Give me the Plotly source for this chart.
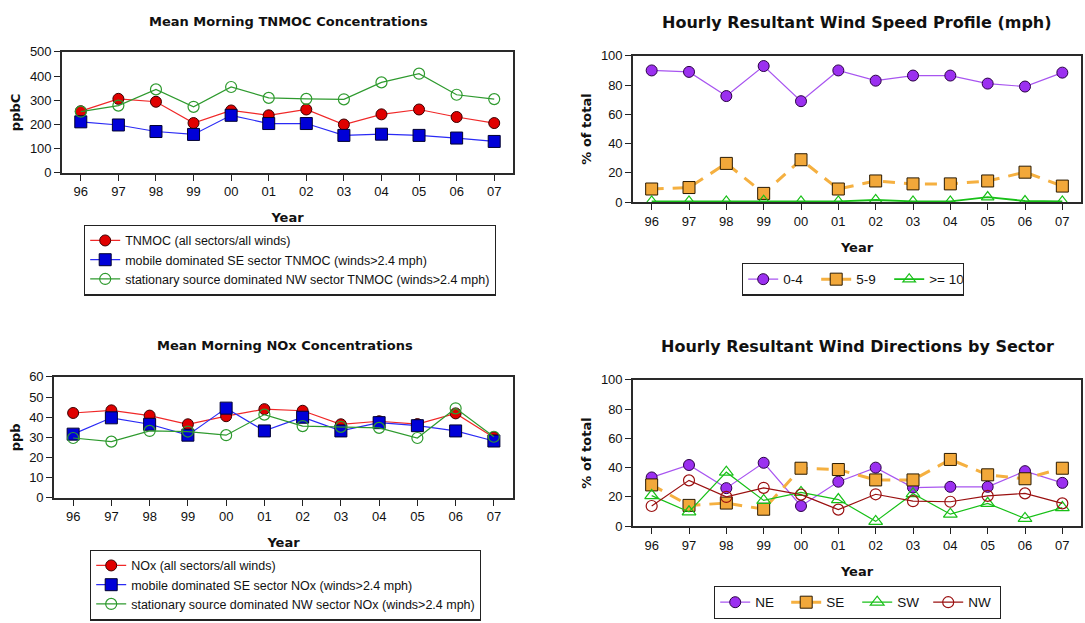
import plotly.graph_objects as go

# ---------------- data ----------------
years = ["96", "97", "98", "99", "00", "01", "02", "03", "04", "05", "06", "07"]

tnmoc_all = [255, 306, 294, 206, 258, 238, 262, 200, 242, 262, 231, 206]
tnmoc_se = [211, 198, 171, 159, 238, 204, 204, 155, 160, 155, 144, 130]
tnmoc_nw = [253, 278, 345, 273, 355, 310, 306, 304, 374, 410, 323, 305]

speed_0_4 = [90, 89, 72.5, 93, 69, 90, 83, 86.5, 86.5, 81, 79, 88.5]
speed_5_9 = [9, 10, 26.5, 6, 29, 9, 14.5, 12.5, 12.5, 14.5, 20.5, 11]
speed_10 = [0.5, 0.5, 0.5, 1, 0.5, 0.5, 1.5, 0.5, 0.5, 3.5, 0.8, 0.5]

nox_all = [42.1, 43.4, 40.8, 36.5, 40.5, 44, 43.2, 36.5, 38, 36.6, 41.9, 30]
nox_se = [31.6, 39.7, 36.5, 31.1, 44.5, 33.2, 40, 33.2, 37.3, 35.8, 33.2, 28.2]
nox_nw = [29.7, 27.9, 33.2, 32.9, 31.1, 41.3, 35.6, 35.2, 34.7, 29.7, 44.4, 30.3]

dir_ne = [33.3, 41.8, 26, 43.3, 13.8, 30.4, 40, 26.4, 26.9, 26.9, 37.6, 29.6]
dir_se = [28.2, 14.2, 15.8, 11.6, 39.6, 38.7, 31.6, 31.6, 45.6, 35.1, 32.4, 39.6]
dir_sw = [20.9, 9.8, 36.9, 17.6, 23.1, 18.2, 3.3, 22.2, 8.2, 15.6, 5.3, 12.7]
dir_nw = [13.8, 31.3, 20, 26.2, 21.6, 11.3, 21.8, 17.1, 16.7, 20.7, 22.4, 15.6]

titles = ["Mean Morning TNMOC Concentrations",
          "Hourly Resultant Wind Speed Profile (mph)",
          "Mean Morning NOx Concentrations",
          "Hourly Resultant Wind Directions by Sector"]

# ---------------- layout helpers ----------------
W, H = 1085, 623


def px_x(v):
    return v / W


def px_y(v):
    return 1 - v / H


TICK_FONT = dict(family="Liberation Sans, Arial, sans-serif", size=13, color="#111")
LEG_FONT = dict(family="Liberation Sans, Arial, sans-serif", size=12.5, color="#111")
LEG_FONT_R = dict(family="Liberation Sans, Arial, sans-serif", size=13.5, color="#111")
BOLD = "DejaVu Sans, Verdana, sans-serif"
DASH = "12px,9px"

fig = go.Figure()


def add(x, y, name, ax, legend, line, marker, mode="lines+markers"):
    fig.add_trace(go.Scatter(
        x=x, y=y, name=name, mode=mode, line=line, marker=marker,
        xaxis="x" + ("" if ax == 1 else str(ax)),
        yaxis="y" + ("" if ax == 1 else str(ax)),
        legend=legend,
    ))


# top-left TNMOC
add(years, tnmoc_all, "TNMOC (all sectors/all winds)", 1, "legend",
    dict(color="#F02828", width=1.2),
    dict(symbol="circle", size=11, color="#E00000", line=dict(color="#3a0000", width=1)))
add(years, tnmoc_se, "mobile dominated SE sector TNMOC (winds>2.4 mph)", 1, "legend",
    dict(color="#2A2AF5", width=1.2),
    dict(symbol="square", size=12, color="#0000D8", line=dict(color="#000030", width=1)))
add(years, tnmoc_nw, "stationary source dominated NW sector TNMOC (winds>2.4 mph)", 1, "legend",
    dict(color="#2E9A2E", width=1.2),
    dict(symbol="circle-open", size=11, color="#2E9A2E", line=dict(width=1.2)))

# top-right wind speed
add(years, speed_0_4, "0-4", 2, "legend2",
    dict(color="#A855F0", width=1.2),
    dict(symbol="circle", size=11, color="#9B30F0", line=dict(color="#2a0045", width=1)))
add(years, speed_5_9, "5-9", 2, "legend2",
    dict(color="#F5B040", width=3, dash=DASH),
    dict(symbol="square", size=12, color="#F2A83A", line=dict(color="#2a1a00", width=1)))
add(years, speed_10, ">= 10", 2, "legend2",
    dict(color="#18C018", width=1.8),
    dict(symbol="triangle-up-open", size=11, color="#18C018", line=dict(width=1.2)))

# bottom-left NOx
add(years, nox_all, "NOx (all sectors/all winds)", 3, "legend3",
    dict(color="#F02828", width=1.2),
    dict(symbol="circle", size=11, color="#E00000", line=dict(color="#3a0000", width=1)))
add(years, nox_se, "mobile dominated SE sector NOx (winds>2.4 mph)", 3, "legend3",
    dict(color="#2A2AF5", width=1.2),
    dict(symbol="square", size=12, color="#0000D8", line=dict(color="#000030", width=1)))
add(years, nox_nw, "stationary source dominated NW sector NOx (winds>2.4 mph)", 3, "legend3",
    dict(color="#2E9A2E", width=1.2),
    dict(symbol="circle-open", size=11, color="#2E9A2E", line=dict(width=1.2)))

# bottom-right wind direction
add(years, dir_ne, "NE", 4, "legend4",
    dict(color="#A855F0", width=1.2),
    dict(symbol="circle", size=11, color="#9B30F0", line=dict(color="#2a0045", width=1)))
add(years, dir_se, "SE", 4, "legend4",
    dict(color="#F5B040", width=3, dash=DASH),
    dict(symbol="square", size=12, color="#F2A83A", line=dict(color="#2a1a00", width=1)))
add(years, dir_sw, "SW", 4, "legend4",
    dict(color="#18C018", width=1.2),
    dict(symbol="triangle-up-open", size=12, color="#18C018", line=dict(width=1.2)))
add(years, dir_nw, "NW", 4, "legend4",
    dict(color="#9A1010", width=1.2),
    dict(symbol="circle-open", size=11, color="#9A1010", line=dict(width=1.2)))

# plot areas in pixels: (left, right, top, bottom)
areas = {
    1: (62, 513, 46, 170),
    2: (633, 1081, 50, 200),
    3: (54, 513, 379, 503),
    4: (633, 1081, 382, 532),
}
yranges = {1: (0, 500, 100, "ppbC"), 2: (0, 100, 20, "% of total"),
           3: (0, 60, 10, "ppb"), 4: (0, 100, 20, "% of total")}

layout = dict(
    width=W, height=H, margin=dict(l=0, r=0, t=0, b=0),
    paper_bgcolor="white", plot_bgcolor="white",
    font=TICK_FONT,
)
for i, (l, r, t, b) in areas.items():
    suf = "" if i == 1 else str(i)
    y0, y1, dt, ytitle = yranges[i]
    layout["xaxis" + suf] = dict(
        domain=[px_x(l), px_x(r)], anchor="y" + suf, type="category",
        range=[-0.5, 11.5], showline=True, mirror=True, linecolor="#2a2a2a", linewidth=1.6,
        ticks="outside", ticklen=6, tickcolor="#222", tickwidth=1, showgrid=False,
        zeroline=False, tickfont=TICK_FONT,
        title=dict(text="Year", font=dict(family=BOLD, size=13, color="#111", weight="bold"),
                   standoff=15),
    )
    layout["yaxis" + suf] = dict(
        domain=[px_y(b), px_y(t)], anchor="x" + suf, range=[y0, y1], dtick=dt,
        showline=True, mirror=True, linecolor="#2a2a2a", linewidth=1.6,
        ticks="outside", ticklen=6, tickcolor="#222", tickwidth=1, showgrid=False,
        zeroline=False, tickfont=TICK_FONT,
        title=dict(text=ytitle, font=dict(family=BOLD, size=13, color="#111", weight="bold"),
                   standoff=6),
    )

leg_common = dict(bordercolor="#222", borderwidth=1.2, bgcolor="white",
                  xanchor="left", yanchor="top", itemclick=False)
layout["legend"] = dict(x=px_x(84), y=px_y(223), font=LEG_FONT, **leg_common)
layout["legend2"] = dict(x=px_x(742), y=px_y(262), orientation="h", font=LEG_FONT_R,
                         entrywidth=28, **leg_common)
layout["legend3"] = dict(x=px_x(90), y=px_y(556), font=LEG_FONT, **leg_common)
layout["legend4"] = dict(x=px_x(714), y=px_y(593), orientation="h", font=LEG_FONT_R,
                         entrywidth=26, **leg_common)

title_pos = [(288, 15, 13), (857, 16, 16), (285, 347, 13), (857, 348, 16)]
annotations = []
for txt, (cx, cy, fs) in zip(titles, title_pos):
    annotations.append(dict(
        text="<b>" + txt + "</b>", x=px_x(cx), y=px_y(cy), xref="paper", yref="paper",
        xanchor="center", yanchor="middle", showarrow=False,
        font=dict(family=BOLD, size=fs, color="#111"),
    ))
layout["annotations"] = annotations
layout["showlegend"] = True

fig.update_layout(**layout)
fig.write_html(
    "out.html",
    config={"displayModeBar": False},
    post_script="document.body.style.margin='0';document.body.style.overflow='hidden';",
)
